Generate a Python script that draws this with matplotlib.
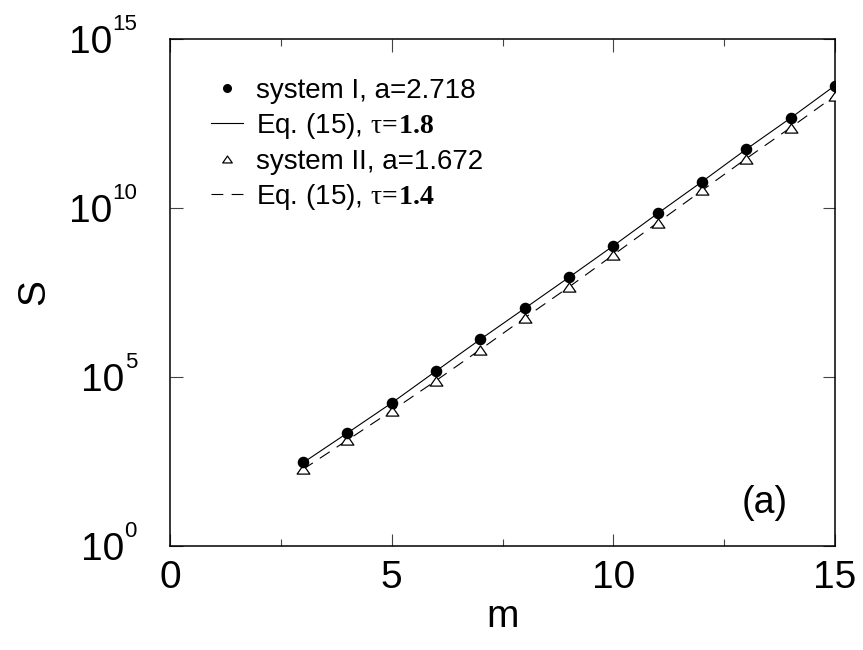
import matplotlib
matplotlib.use("Agg")
import numpy as np
import matplotlib.pyplot as plt
from matplotlib.path import Path
from matplotlib.ticker import FixedLocator, MultipleLocator, NullLocator, NullFormatter

plt.rcParams['font.family'] = ['Liberation Sans', 'DejaVu Sans']
plt.rcParams['mathtext.fontset'] = 'custom'
plt.rcParams['mathtext.rm'] = 'Liberation Serif'
plt.rcParams['mathtext.bf'] = 'Liberation Serif:bold'
plt.rcParams['mathtext.it'] = 'Liberation Serif:italic'
plt.rcParams['lines.scale_dashes'] = False

# data
m = [3, 4, 5, 6, 7, 8, 9, 10, 11, 12, 13, 14, 15]
S_sys1 = [3.1e2, 2.24e3, 1.74e4, 1.55e5, 1.32e6, 1.07e7, 8.9e7, 7.6e8,
          6.9e9, 6.0e10, 5.5e11, 4.5e12, 4.1e13]
S_sys2 = [1.95e2, 1.38e3, 1.0e4, 7.8e4, 6.5e5, 5.6e6, 4.6e7, 4.1e8,
          3.7e9, 3.3e10, 2.9e11, 2.3e12, 2.1e13]
eq_tau18 = [2.9e2, 2.2e3, 1.7e4, 1.5e5, 1.3e6, 1.07e7, 8.9e7, 7.6e8,
            6.9e9, 6.0e10, 5.5e11, 4.6e12, 4.2e13]
eq_tau14 = [1.85e2, 1.35e3, 1.0e4, 7.8e4, 6.5e5, 5.6e6, 4.6e7, 4.1e8,
            3.7e9, 3.3e10, 2.9e11, 2.4e12, 2.1e13]

labels = ["system I, a=2.718",
          r"Eq. (15), $\mathrm{\tau}\!\mathbf{=}\!\mathbf{1.8}$",
          "system II, a=1.672",
          r"Eq. (15), $\mathrm{\tau}\!\mathbf{=}\!\mathbf{1.4}$"]

xticks = [0, 5, 10, 15]
yticks = [1e0, 1e5, 1e10, 1e15]
ytick_exp = ["0", "5", "10", "15"]

# open triangle, a bit wider than tall
tri = Path([(-1, -0.72), (1, -0.72), (0, 0.72), (-1, -0.72)],
           [Path.MOVETO, Path.LINETO, Path.LINETO, Path.CLOSEPOLY])

fig = plt.figure(figsize=(8.63, 6.5), dpi=100)
ax = fig.add_axes([170/863, 1-546/650, 665/863, 507/650])

ax.plot(m, S_sys1, 'o', color='black', ms=7.3, label=labels[0], zorder=4)
ax.plot(m, eq_tau18, '-', color='black', lw=0.8, label=labels[1], zorder=3)
ax.plot(m, S_sys2, ls='none', marker=tri, mfc='white', mec='black', mew=0.9,
        ms=9.2, label=labels[2], zorder=3)
ax.plot(m, eq_tau14, '--', color='black', lw=0.8, dashes=(8.5, 6),
        label=labels[3], zorder=2)

ax.set_yscale('log')
ax.set_xlim(0, 15)
ax.set_ylim(1e0, 1e15)
ax.xaxis.set_major_locator(FixedLocator(xticks))
ax.xaxis.set_minor_locator(MultipleLocator(2.5))
ax.yaxis.set_major_locator(FixedLocator(yticks))
ax.yaxis.set_minor_locator(NullLocator())
ax.yaxis.set_major_formatter(NullFormatter())
ax.yaxis.set_minor_formatter(NullFormatter())

ax.tick_params(which='both', direction='in', top=True, right=True,
               labelsize=28, width=0.8, color='#444444')
ax.tick_params(which='major', length=9)
ax.tick_params(which='minor', length=5)
ax.tick_params(axis='x', pad=10)
for sp in ax.spines.values():
    sp.set_linewidth(1.1)

# y tick labels as 10 + small raised exponent, right aligned
ytr = ax.get_yaxis_transform()
sup_fs = 16
right_pt = -23.8
for yv, ex in zip(yticks, ytick_exp):
    ax.annotate(ex, xy=(0, yv), xycoords=ytr, xytext=(right_pt, 6.5),
                textcoords='offset points', ha='right', va='baseline',
                fontsize=sup_fs, annotation_clip=False)
    shift = len(ex) * 0.556 * sup_fs
    ax.annotate("10", xy=(0, yv), xycoords=ytr,
                xytext=(right_pt - shift, -10), textcoords='offset points',
                ha='right', va='baseline', fontsize=28, annotation_clip=False)

ax.set_xlabel("m", fontsize=28, labelpad=2)
ax.set_ylabel("S", fontsize=28)
ax.yaxis.set_label_coords(-0.177, 0.5)

ax.text(0.895, 0.085, "(a)", transform=ax.transAxes, fontsize=27,
        ha='center', va='center')

ax.legend(loc='upper left', bbox_to_anchor=(0.062, 0.924), frameon=False,
          fontsize=20, handlelength=1.15, handletextpad=0.47,
          labelspacing=0.27, borderpad=0, borderaxespad=0, markerscale=0.75)

fig.savefig("out.png", dpi=100)
